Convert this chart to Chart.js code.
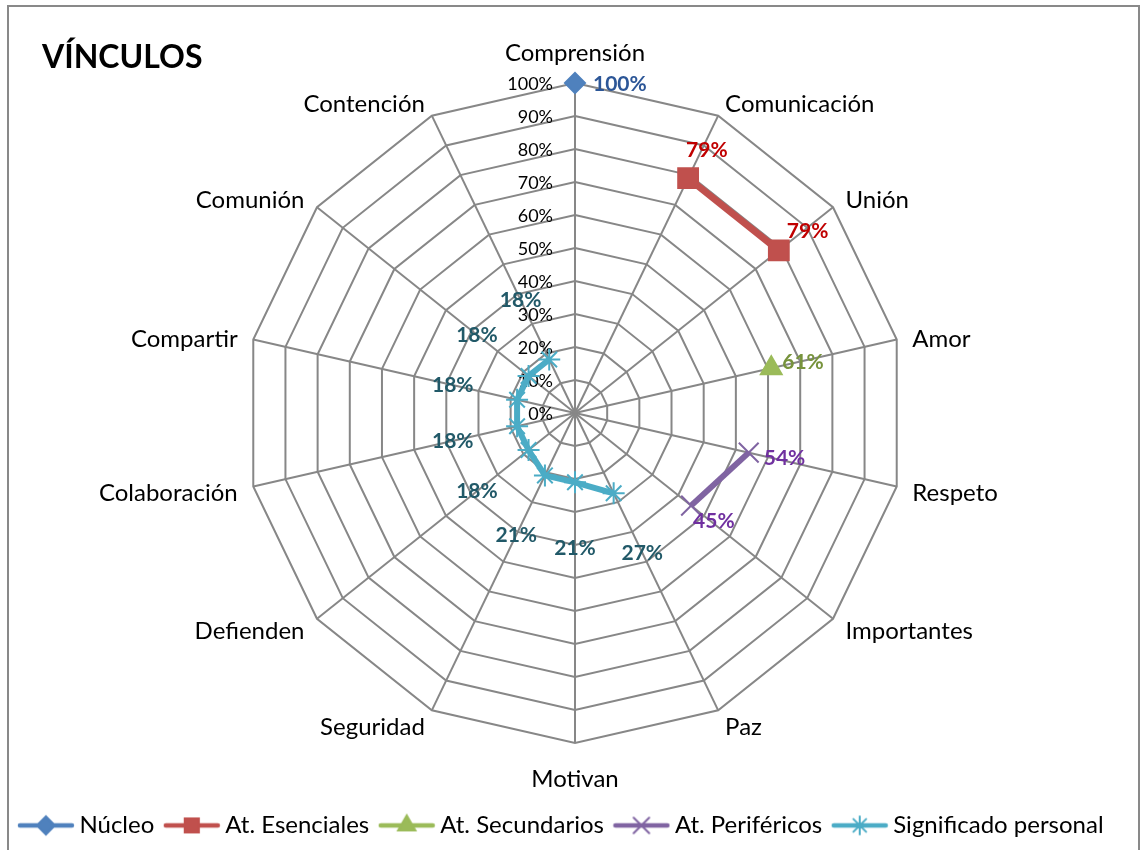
<!DOCTYPE html>
<html>
<head>
<meta charset="utf-8">
<title>Vínculos</title>
<script src="https://cdn.jsdelivr.net/npm/chart.js@4.4.1/dist/chart.umd.min.js"></script>
<style>
    html, body { margin: 0; padding: 0; background: #fff; overflow: hidden; }
    #wrap { position: relative; width: 1141px; height: 850px; overflow: hidden; }
    #vinculosChart { position: absolute; left: 0; top: 0; }
    #frame {
        position: absolute; left: 7px; top: 5px; width: 1133px; height: 900px;
        border: 2px solid #898989; box-sizing: border-box; pointer-events: none;
    }
</style>
</head>
<body>
<div id="wrap">
    <canvas id="vinculosChart" width="1141" height="850"></canvas>
    <div id="frame"></div>
</div>
<script>
// Chart data
const categories = ['Comprensión', 'Comunicación', 'Unión', 'Amor', 'Respeto', 'Importantes', 'Paz',
    'Motivan', 'Seguridad', 'Defienden', 'Colaboración', 'Compartir', 'Comunión', 'Contención'];

const nucleo        = [100, null, null, null, null, null, null, null, null, null, null, null, null, null];
const esenciales    = [null, 79, 79, null, null, null, null, null, null, null, null, null, null, null];
const secundarios   = [null, null, null, 61, null, null, null, null, null, null, null, null, null, null];
const perifericos   = [null, null, null, null, 54, 45, null, null, null, null, null, null, null, null];
const significado   = [null, null, null, null, null, null, 27, 21, 21, 18, 18, 18, 18, 18];

const FONT = 'Lato, "Open Sans", sans-serif';

// Series look (line colour, marker, label colour)
const series = [
    { label: 'Núcleo', data: nucleo, color: '#4F81BD', text: '#2C5697', style: 'rectRot', radius: 10, legendRadius: 9, width: 5 },
    { label: 'At. Esenciales', data: esenciales, color: '#C0504D', text: '#C00000', style: 'rect', radius: 14, legendRadius: 10, width: 7 },
    { label: 'At. Secundarios', data: secundarios, color: '#9BBB59', text: '#77933C', style: 'triangle', radius: 12, legendRadius: 10, width: 5 },
    { label: 'At. Periféricos', data: perifericos, color: '#8064A2', text: '#7030A0', style: 'crossRot', radius: 14, legendRadius: 11, width: 6 },
    { label: 'Significado personal', data: significado, color: '#4BACC6', text: '#215968', style: 'star', radius: 11, legendRadius: 9, width: 6 }
];

// label offsets from the point (dx, dy), text left aligned
const labelOffsets = {
    0: { 0: [18, 1] },
    1: { 1: [-2, -28], 2: [8, -19] },
    2: { 3: [11, -6] },
    3: { 4: [15, 6], 5: [2, 16] }
};

// line + marker icons for the legend
function makeIcon(s) {
    const c = document.createElement('canvas');
    c.width = 58; c.height = 26;
    const g = c.getContext('2d');
    g.strokeStyle = s.color;
    g.lineWidth = 4.5;
    g.lineCap = 'round';
    g.beginPath(); g.moveTo(3, 13); g.lineTo(55, 13); g.stroke();
    g.fillStyle = s.color;
    g.lineWidth = 2;
    Chart.helpers.drawPoint(g, { pointStyle: s.style, radius: s.legendRadius, borderWidth: 2, rotation: 0 }, 29, 13);
    return c;
}
const legendIcons = series.map(makeIcon);

const textPlugin = {
    id: 'textPlugin',
    afterLayout(chart) {
        // legend sits a little left of the radar centre
        chart.legend.left -= 11;
        chart.legend.right -= 11;
    },
    beforeDatasetsDraw(chart) {
        const ctx = chart.ctx;
        const r = chart.scales.r;
        ctx.save();
        // axis tick labels, left of the vertical spoke
        ctx.font = '18px ' + FONT;
        ctx.fillStyle = '#000';
        ctx.textAlign = 'right';
        ctx.textBaseline = 'middle';
        r.ticks.forEach(t => {
            const y = r.yCenter - r.getDistanceFromCenterForValue(t.value);
            ctx.fillText(t.label, r.xCenter - 22, y + 1);
        });
        // category labels around the web
        ctx.font = '24px ' + FONT;
        categories.forEach((name, i) => {
            let p = r.getPointPosition(i, r.drawingArea + 16);
            const dx = p.x - r.xCenter;
            if (Math.abs(dx) < 1) {
                p = r.getPointPosition(i, r.drawingArea + 33);
                ctx.textAlign = 'center';
            } else {
                ctx.textAlign = dx > 0 ? 'left' : 'right';
            }
            ctx.fillText(name, p.x, p.y + 3);
        });
        ctx.restore();
    },
    afterDatasetsDraw(chart) {
        const ctx = chart.ctx;
        const r = chart.scales.r;
        ctx.save();
        ctx.font = 'bold 21px ' + FONT;
        ctx.textBaseline = 'middle';
        chart.data.datasets.forEach((ds, di) => {
            const meta = chart.getDatasetMeta(di);
            ds.data.forEach((v, i) => {
                if (v === null) return;
                ctx.fillStyle = series[di].text;
                const txt = v + '%';
                if (labelOffsets[di]) {
                    const el = meta.data[i];
                    const off = labelOffsets[di][i];
                    ctx.textAlign = 'left';
                    ctx.fillText(txt, el.x + off[0], el.y + off[1]);
                } else {
                    const p = r.getPointPositionForValue(i, v + 20);
                    ctx.textAlign = 'center';
                    ctx.fillText(txt, p.x, p.y);
                }
            });
        });
        // chart title
        ctx.font = 'bold 32px ' + FONT;
        ctx.fillStyle = '#000';
        ctx.textAlign = 'left';
        ctx.textBaseline = 'alphabetic';
        ctx.fillText('VÍNCULOS', 42, 68);
        ctx.restore();
    }
};

const ctx = document.getElementById('vinculosChart').getContext('2d');
new Chart(ctx, {
    type: 'radar',
    data: {
        labels: categories,
        datasets: series.map(s => ({
            label: s.label,
            data: s.data,
            borderColor: s.color,
            backgroundColor: s.color,
            borderWidth: s.width,
            fill: false,
            spanGaps: false,
            pointStyle: s.style,
            pointRadius: s.radius,
            pointBorderWidth: 2,
            pointBackgroundColor: s.color,
            pointBorderColor: s.color
        }))
    },
    options: {
        responsive: false,
        animation: false,
        layout: { padding: { left: 14, right: 5, top: 83, bottom: 2.6 } },
        scales: {
            r: {
                min: 0,
                max: 100,
                ticks: { stepSize: 10, display: false, callback: v => v + '%' },
                grid: { color: '#878787', lineWidth: 2 },
                angleLines: { color: '#878787', lineWidth: 2 },
                pointLabels: { display: false }
            }
        },
        plugins: {
            tooltip: { enabled: false },
            legend: {
                position: 'bottom',
                title: { display: true, text: '', padding: { top: 40, bottom: 0 }, font: { size: 12 } },
                labels: {
                    color: '#000',
                    font: { family: FONT, size: 24 },
                    usePointStyle: true,
                    pointStyleWidth: 43,
                    padding: 16,
                    generateLabels(chart) {
                        const items = Chart.defaults.plugins.legend.labels.generateLabels(chart);
                        items.forEach((it, i) => { it.pointStyle = legendIcons[i]; });
                        return items;
                    }
                }
            }
        }
    },
    plugins: [textPlugin]
});
</script>
</body>
</html>
